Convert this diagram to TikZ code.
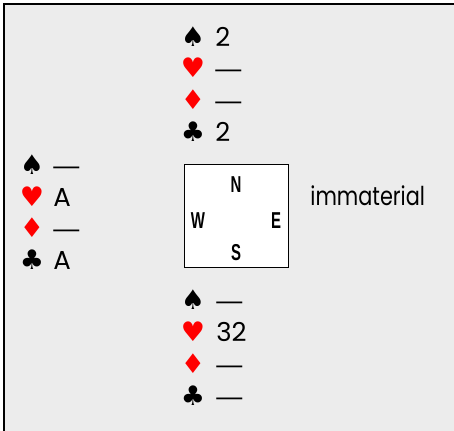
\documentclass[tikz,border=0pt]{standalone}
\usepackage{fontspec}
\setmainfont{Poppins}
\newfontfamily\suitfont{DejaVu Sans}
\newfontfamily\dashfont{Liberation Sans}
\newfontfamily\narrowfont[FakeStretch=0.8]{Poppins}
\newfontfamily\compassfont[FakeStretch=0.65]{Liberation Sans}
\newcommand{\void}{{\dashfont —}}
\definecolor{tablegray}{HTML}{ECECEC}
\definecolor{suitred}{HTML}{FF0000}
\tikzset{
	suit/.style={font=\suitfont\fontsize{13.5}{13.5}\selectfont, inner sep=0pt, anchor=base},
	redsuit/.style={suit, text=suitred},
	cards/.style={font=\fontsize{13}{13}\selectfont, inner sep=0pt, anchor=base west},
	compass/.style={font=\compassfont\bfseries\fontsize{11.5}{11.5}\selectfont, inner sep=0pt},
}

\begin{document}
\begin{tikzpicture}[x=0.5pt, y=-0.5pt]
	\useasboundingbox (0,0) rectangle (454,431);
	% der tisch
	\fill[tablegray] (4,4) rectangle (454,431);
	\draw[black, line width=0.75pt] (4,431) -- (4,4) -- (454,4);
	% die Windrose in der Mitte
	\node[draw, fill=white, line width=0.5pt, minimum width=52pt, minimum height=51.5pt, inner sep=0pt] (table) at (236,216.5) {};
	\node[compass] (north) at (236,185) {N};
	\node[compass] (west) at (198,221) {W};
	\node[compass] (east) at (276,221) {E};
	\node[compass] (south) at (236,253) {S};
	% Nord
	\node[suit] (nS) at (193,46.5) {♠};
	\node[cards] (nSc) at (215,46.5) {2};
	\node[redsuit] (nH) at (193,78) {♥};
	\node[cards] (nHc) at (215,78) {\void};
	\node[redsuit] (nD) at (193,110) {♦};
	\node[cards] (nDc) at (215,110) {\void};
	\node[suit] (nC) at (193,141.5) {♣};
	\node[cards] (nCc) at (215,141.5) {2};
	% West
	\node[suit] (wS) at (32,175) {♠};
	\node[cards] (wSc) at (53,175) {\void};
	\node[redsuit] (wH) at (32,206.5) {♥};
	\node[cards] (wHc) at (53,206.5) {A};
	\node[redsuit] (wD) at (32,238) {♦};
	\node[cards] (wDc) at (53,238) {\void};
	\node[suit] (wC) at (32,269.5) {♣};
	\node[cards] (wCc) at (53,269.5) {A};
	% Ost
	\node[cards] (eastcards) at (310,205.5) {\narrowfont immaterial};
	% Sued
	\node[suit] (sS) at (193,310) {♠};
	\node[cards] (sSc) at (216,310) {\void};
	\node[redsuit] (sH) at (193,342) {♥};
	\node[cards] (sHc) at (216,342) {32};
	\node[redsuit] (sD) at (193,374) {♦};
	\node[cards] (sDc) at (216,374) {\void};
	\node[suit] (sC) at (193,406) {♣};
	\node[cards] (sCc) at (216,406) {\void};
\end{tikzpicture}
\end{document}
